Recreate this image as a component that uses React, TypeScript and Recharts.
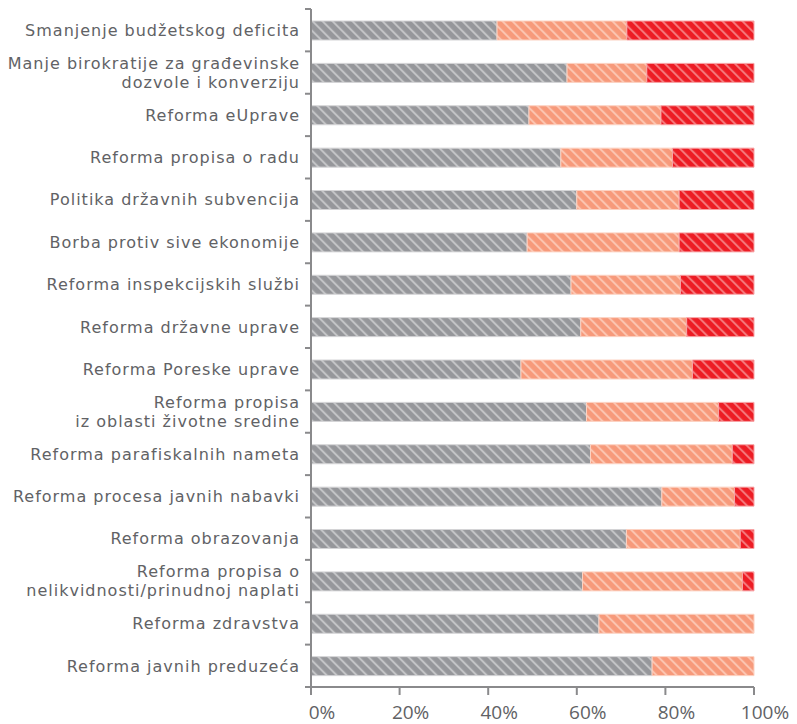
import React from 'react';
import { BarChart, Bar, XAxis, YAxis } from 'recharts';

const categories = [
  'Smanjenje budžetskog deficita',
  'Manje birokratije za građevinske\ndozvole i konverziju',
  'Reforma eUprave',
  'Reforma propisa o radu',
  'Politika državnih subvencija',
  'Borba protiv sive ekonomije',
  'Reforma inspekcijskih službi',
  'Reforma državne uprave',
  'Reforma Poreske uprave',
  'Reforma propisa\niz oblasti životne sredine',
  'Reforma parafiskalnih nameta',
  'Reforma procesa javnih nabavki',
  'Reforma obrazovanja',
  'Reforma propisa o\nnelikvidnosti/prinudnoj naplati',
  'Reforma zdravstva',
  'Reforma javnih preduzeća',
];

const grayValues = [42.0, 57.8, 49.2, 56.4, 60.0, 48.8, 58.7, 60.9, 47.4, 62.2, 63.1, 79.2, 71.2, 61.3, 65.0, 77.0];
const orangeValues = [29.3, 18.0, 29.8, 25.2, 23.1, 34.3, 24.7, 23.9, 38.7, 29.8, 32.0, 16.4, 25.7, 36.1, 35.0, 23.0];
const redValues = [28.7, 24.2, 21.0, 18.4, 16.9, 16.9, 16.6, 15.2, 13.9, 8.0, 4.9, 4.4, 3.1, 2.6, 0, 0];

const xTicks = [0, 20, 40, 60, 80, 100];

const data = categories.map((name, i) => ({
  name,
  gray: grayValues[i],
  orange: orangeValues[i],
  red: redValues[i],
}));

const LABEL_FONT = '"DejaVu Sans", "Open Sans", sans-serif';
const TICK_FONT = '"Open Sans", "DejaVu Sans", sans-serif';
const TEXT_COLOR = '#616265';
const AXIS_COLOR = '#8a8a8c';

const YTick = (props: any) => {
  const { x, y, payload, index } = props;
  const half = payload && typeof payload.offset === 'number' && payload.offset > 0 ? payload.offset : 21.19;
  const lines = String(payload.value).split('\n');
  const lineH = 19.4;
  const isLast = index === categories.length - 1;
  const tx = x + 1;
  return (
    <g>
      <line x1={x + 6} x2={x + 12} y1={y - half} y2={y - half} stroke={AXIS_COLOR} strokeWidth={2} />
      {isLast && (
        <line x1={x + 6} x2={x + 12} y1={y + half} y2={y + half} stroke={AXIS_COLOR} strokeWidth={2} />
      )}
      <text
        x={tx}
        y={y}
        textAnchor="end"
        fontFamily={LABEL_FONT}
        fontSize={16}
        letterSpacing={1}
        fill={TEXT_COLOR}
      >
        {lines.map((l, i) => (
          <tspan key={i} x={tx} y={y + 5.7 + (i - (lines.length - 1) / 2) * lineH}>
            {l}
          </tspan>
        ))}
      </text>
    </g>
  );
};

const XTick = (props: any) => {
  const { x, y, payload } = props;
  return (
    <text
      x={x + 11}
      y={y + 21.5}
      textAnchor="middle"
      fontFamily={TICK_FONT}
      fontSize={19}
      fill={TEXT_COLOR}
    >
      {`${payload.value}%`}
    </text>
  );
};

const Hatch = ({ id, base, stripe }: { id: string; base: string; stripe: string }) => (
  <pattern
    id={id}
    patternUnits="userSpaceOnUse"
    width={7.07}
    height={10}
    patternTransform="rotate(-45)"
  >
    <rect x={0} y={0} width={7.07} height={10} fill={base} />
    <rect x={0} y={0} width={2} height={10} fill={stripe} />
  </pattern>
);

export default function App() {
  return (
    <div style={{ position: 'absolute', left: 0, top: 0, width: 797, height: 724, background: '#fff' }}>
      <BarChart
        width={797}
        height={724}
        data={data}
        layout="vertical"
        margin={{ top: 9, right: 43, left: 0, bottom: 0 }}
        barSize={19}
      >
        <defs>
          <Hatch id="hatchGray" base="#96979b" stripe="#c4c5c7" />
          <Hatch id="hatchOrange" base="#f79a7b" stripe="#fbc6b2" />
          <Hatch id="hatchRed" base="#ed1c24" stripe="#f47a7d" />
        </defs>
        <XAxis
          type="number"
          domain={[0, 100]}
          ticks={xTicks}
          height={37}
          tickSize={8}
          axisLine={{ stroke: AXIS_COLOR, strokeWidth: 2 }}
          tickLine={{ stroke: AXIS_COLOR, strokeWidth: 2 }}
          tick={<XTick />}
          interval={0}
        />
        <YAxis
          type="category"
          dataKey="name"
          width={311}
          tickSize={6}
          tickMargin={6}
          axisLine={{ stroke: AXIS_COLOR, strokeWidth: 2 }}
          tickLine={false}
          tick={<YTick />}
          interval={0}
        />
        <Bar dataKey="gray" stackId="s" fill="url(#hatchGray)" stroke="#d4d4d6" strokeWidth={1} isAnimationActive={false} />
        <Bar dataKey="orange" stackId="s" fill="url(#hatchOrange)" stroke="#fcd2c2" strokeWidth={1} isAnimationActive={false} />
        <Bar dataKey="red" stackId="s" fill="url(#hatchRed)" stroke="#f7a3a5" strokeWidth={1} isAnimationActive={false} />
      </BarChart>
    </div>
  );
}
